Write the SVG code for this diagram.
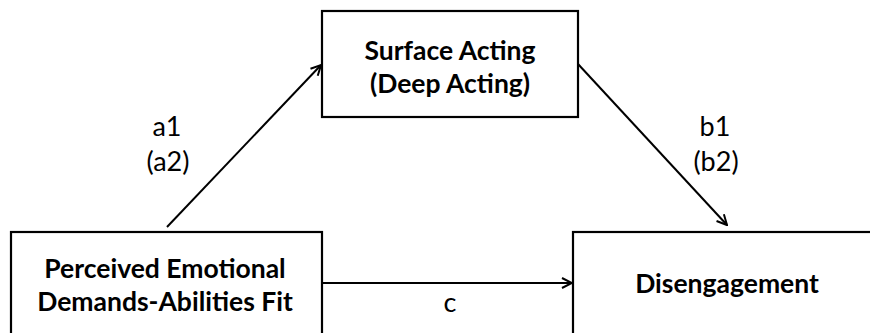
<svg xmlns="http://www.w3.org/2000/svg" width="870" height="333" viewBox="0 0 870 333">
<style>
.box{fill:#fff;stroke:#000;stroke-width:2.2}
.t{font-family:Lato,"Open Sans","Liberation Sans",sans-serif;font-size:27px;fill:#000;text-anchor:middle}
.b{font-weight:bold;font-size:26.5px}
.c{fill:none;stroke:#000;stroke-width:2}
</style>
<defs>
<marker id="arr" viewBox="0 0 12 12" refX="11" refY="6" markerWidth="12" markerHeight="12" markerUnits="userSpaceOnUse" orient="auto">
<path d="M1,1 L11,6 L1,11" fill="none" stroke="#000" stroke-width="2"/>
</marker>
</defs>
<rect width="870" height="333" fill="#fff"/>
<g id="connectors">
<line class="c" x1="167" y1="227" x2="321" y2="65" marker-end="url(#arr)"/>
<line class="c" x1="578" y1="64" x2="727" y2="225" marker-end="url(#arr)"/>
<line class="c" x1="322" y1="283" x2="572" y2="283" marker-end="url(#arr)"/>
<text class="t" x="167" y="136">a1</text>
<text class="t" x="168" y="171">(a2)</text>
<text class="t" x="715" y="136">b1</text>
<text class="t" x="716" y="171">(b2)</text>
<text class="t" x="450" y="312">c</text>
</g>
<g id="mediator">
<rect class="box" x="322" y="11" width="256" height="106"/>
<text class="t b" x="450" y="60">Surface Acting</text>
<text class="t b" x="450" y="93">(Deep Acting)</text>
</g>
<g id="predictor">
<rect class="box" x="11" y="232" width="311" height="120"/>
<text class="t b" x="165" y="278">Perceived Emotional</text>
<text class="t b" x="165" y="311">Demands-Abilities Fit</text>
</g>
<g id="outcome">
<rect class="box" x="573" y="232" width="320" height="120"/>
<text class="t b" x="727" y="293">Disengagement</text>
</g>
</svg>
